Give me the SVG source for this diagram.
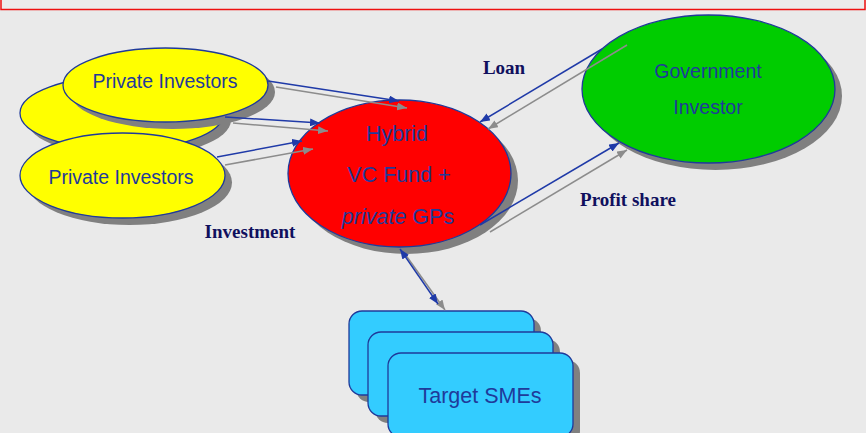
<svg xmlns="http://www.w3.org/2000/svg" width="866" height="433" viewBox="0 0 866 433">
  <defs>
    <style>
      .node { stroke: #1f3a9a; stroke-width: 1.3; }
      .shadow { fill: #808080; }
      .inv { fill: #ffff00; }
      .fund { fill: #ff0000; }
      .gov { fill: #00cc00; }
      .sme { fill: #33ccff; }
      .ntext { font-family: "Liberation Sans", Arial, sans-serif; fill: #1f3a9a; text-anchor: middle; }
      .lbl { font-family: "Liberation Serif", "Times New Roman", serif; font-weight: bold; font-size: 19px; fill: #10105e; text-anchor: middle; }
      .blue { stroke: #1f3aa8; stroke-width: 1.5; fill: none; }
      .grey { stroke: #8c8c8c; stroke-width: 1.5; fill: none; }
    </style>
    <marker id="ahBlue" viewBox="0 0 10 8" refX="10" refY="4" markerWidth="10" markerHeight="8" markerUnits="userSpaceOnUse" orient="auto">
      <path d="M0,0 L10,4 L0,8 z" fill="#1f3aa8"/>
    </marker>
    <marker id="ahBlueStart" viewBox="0 0 10 8" refX="0" refY="4" markerWidth="10" markerHeight="8" markerUnits="userSpaceOnUse" orient="auto">
      <path d="M10,0 L0,4 L10,8 z" fill="#1f3aa8"/>
    </marker>
    <marker id="ahGrey" viewBox="0 0 10 8" refX="10" refY="4" markerWidth="10" markerHeight="8" markerUnits="userSpaceOnUse" orient="auto">
      <path d="M0,0 L10,4 L0,8 z" fill="#8c8c8c"/>
    </marker>
  </defs>

  <!-- background -->
  <rect x="0" y="0" width="866" height="433" fill="#eaeaea"/>

  <!-- title banner (top edge) -->
  <rect x="1" y="-6" width="864" height="15.5" fill="#ececec" stroke="#ee1111" stroke-width="1.5"/>

  <!-- private investors (back) -->
  <g id="investors-back">
    <ellipse class="shadow" cx="129" cy="120" rx="102" ry="37"/>
    <ellipse class="node inv" cx="122" cy="113" rx="102" ry="37"/>
  </g>

  <!-- private investors (top) -->
  <g id="investors-top">
    <ellipse class="shadow" cx="172.5" cy="92" rx="102.5" ry="37"/>
    <ellipse class="node inv" cx="165.5" cy="85" rx="102.5" ry="37"/>
    <text class="ntext" x="165" y="88" font-size="19.5">Private Investors</text>
  </g>

  <!-- private investors (bottom) -->
  <g id="investors-bottom">
    <ellipse class="shadow" cx="129.5" cy="182.5" rx="102.5" ry="42.5"/>
    <ellipse class="node inv" cx="122.5" cy="175.5" rx="102.5" ry="42.5"/>
    <text class="ntext" x="121" y="184" font-size="19.5">Private Investors</text>
  </g>

  <!-- hybrid fund -->
  <g id="hybrid-fund">
    <ellipse class="shadow" cx="406.5" cy="180.5" rx="111.5" ry="73.5"/>
    <ellipse class="node fund" cx="399.5" cy="173.5" rx="111.5" ry="73.5"/>
    <text class="ntext" x="397" y="141" font-size="21.5">Hybrid</text>
    <text class="ntext" x="399" y="182" font-size="21.5">VC Fund +</text>
    <text class="ntext" x="398" y="224" font-size="21.5"><tspan font-style="italic">private</tspan> GPs</text>
  </g>

  <!-- government investor -->
  <g id="government">
    <ellipse class="shadow" cx="715.5" cy="96" rx="126.5" ry="74"/>
    <ellipse class="node gov" cx="708.5" cy="89" rx="126.5" ry="74"/>
    <text class="ntext" x="708" y="78" font-size="19.5">Government</text>
    <text class="ntext" x="708" y="114" font-size="19.5">Investor</text>
  </g>

  <!-- target SMEs (stacked cards) -->
  <g id="target-smes">
    <rect class="shadow" x="356" y="318" width="185" height="84" rx="13"/>
    <rect class="node sme" x="349" y="311" width="185" height="84" rx="13"/>
    <rect class="shadow" x="375" y="339" width="185" height="84" rx="13"/>
    <rect class="node sme" x="368" y="332" width="185" height="84" rx="13"/>
    <rect class="shadow" x="395" y="360" width="185" height="84" rx="13"/>
    <rect class="node sme" x="388" y="353" width="185" height="84" rx="13"/>
    <text class="ntext" x="480" y="403" font-size="21.5">Target SMEs</text>
  </g>

  <!-- connectors -->
  <g id="connectors">
    <!-- investment flows -->
    <line class="blue" x1="268" y1="81" x2="399" y2="101" marker-end="url(#ahBlue)"/>
    <line class="grey" x1="276" y1="87" x2="407" y2="108" marker-end="url(#ahGrey)"/>
    <line class="blue" x1="225" y1="117" x2="320" y2="123" marker-end="url(#ahBlue)"/>
    <line class="grey" x1="233" y1="123" x2="328" y2="131" marker-end="url(#ahGrey)"/>
    <line class="blue" x1="217" y1="157" x2="302" y2="141" marker-end="url(#ahBlue)"/>
    <line class="grey" x1="225" y1="165" x2="313" y2="149" marker-end="url(#ahGrey)"/>
    <!-- loan -->
    <line class="blue" x1="602" y1="49" x2="480" y2="122" marker-end="url(#ahBlue)"/>
    <line class="grey" x1="627" y1="45" x2="488" y2="129" marker-end="url(#ahGrey)"/>
    <!-- profit share -->
    <line class="blue" x1="480" y1="225" x2="619" y2="143" marker-end="url(#ahBlue)"/>
    <line class="grey" x1="490" y1="232" x2="627" y2="150" marker-end="url(#ahGrey)"/>
    <!-- fund to SMEs -->
    <line class="grey" x1="405" y1="254" x2="445" y2="310" marker-end="url(#ahGrey)"/>
    <line class="blue" x1="400" y1="249" x2="438" y2="304" marker-start="url(#ahBlueStart)" marker-end="url(#ahBlue)"/>
  </g>

  <!-- flow labels -->
  <text class="lbl" x="504" y="74">Loan</text>
  <text class="lbl" x="250" y="238">Investment</text>
  <text class="lbl" x="628" y="206">Profit share</text>
</svg>
